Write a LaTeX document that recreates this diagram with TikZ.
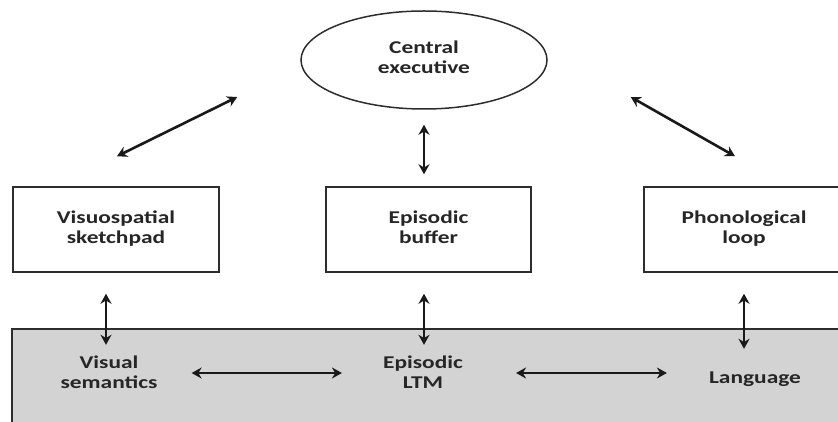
\documentclass[tikz,border=0pt]{standalone}
\usepackage{fontspec}
\setmainfont{Carlito}
\usepackage{graphicx}
\usetikzlibrary{arrows.meta,shapes.geometric}
\definecolor{linegray}{RGB}{45,45,45}
\definecolor{ltmgray}{RGB}{211,211,211}
\newcommand{\lbl}[1]{\scalebox{1.3}[1]{\begin{tabular}{@{}c@{}}#1\end{tabular}}}

\begin{document}
\begin{tikzpicture}[x=1pt, y=-1pt,
        every node/.style={font=\fontsize{18}{20}\selectfont\bfseries, text=black!85, inner sep=0pt},
        store/.style={draw=linegray, line width=1.5pt, fill=white, minimum height=85pt},
        link/.style={<->, >={Stealth[length=10pt,width=11pt]}, line width=2.6pt, draw=black!90}]
    \useasboundingbox (0,0) rectangle (838,422);
    % long-term memory panel
    \draw[draw=linegray, line width=1.5pt, fill=ltmgray] (12,329) rectangle (850,432);
    % working memory
    \node[ellipse, store, minimum width=246pt, minimum height=98pt] (ce) at (424,60) {\lbl{Central\\executive}};
    \node[store, minimum width=206pt] (vss) at (116,229.5) {\lbl{Visuospatial\\sketchpad}};
    \node[store, minimum width=205pt] (eb) at (428.5,229.5) {\lbl{Episodic\\buffer}};
    \node[store, minimum width=200pt] (pl) at (744,229.5) {\lbl{Phonological\\loop}};
    % long-term memory
    \node (vs) at (109,374) {\lbl{Visual\\semantics}};
    \node (ltm) at (423,374) {\lbl{Episodic\\LTM}};
    \node (lang) at (755,379) {\lbl{Language}};
    % links
    \draw[link] ([shift={(-63,37)}]ce.west) -- ([shift={(1,-30)}]vss.north);
    \draw[link] ([shift={(0,15)}]ce.south) -- ([shift={(-4.5,-12)}]eb.north);
    \draw[link] ([shift={(83,37)}]ce.east) -- ([shift={(-9,-30)}]pl.north);
    \draw[link] ([shift={(-10,21)}]vss.south) -- ([shift={(-3,-9)}]vs.north);
    \draw[link] ([shift={(-4.5,21)}]eb.south) -- ([shift={(1,-9)}]ltm.north);
    \draw[link] ([shift={(0,21)}]pl.south) -- ([shift={(-11,-20)}]lang.north);
    \draw[link] ([shift={(34,-1)}]vs.east) -- ([shift={(-41,-1)}]ltm.west);
    \draw[link] ([shift={(53,-1)}]ltm.east) -- ([shift={(-42,-6)}]lang.west);
\end{tikzpicture}
\end{document}
